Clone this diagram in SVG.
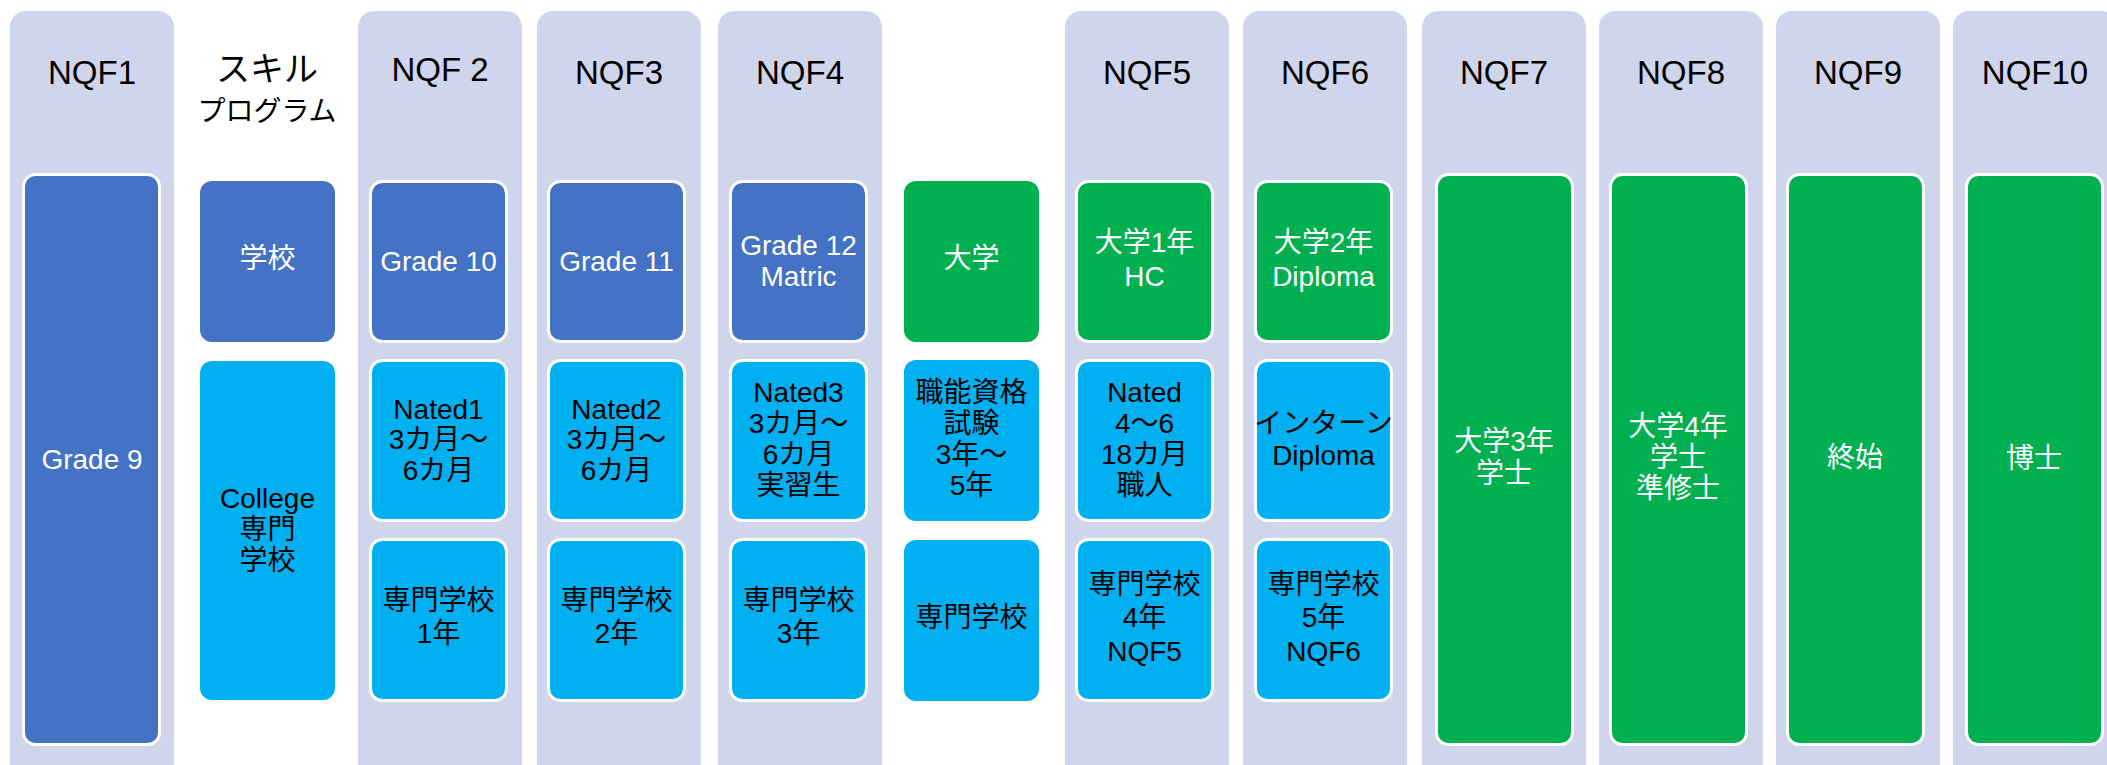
<svg xmlns="http://www.w3.org/2000/svg" width="2107" height="765" viewBox="0 0 2107 765">
<style>
.col{fill:#CFD5EA}
.bx{stroke:#FFFFFF;stroke-width:3}
.blue{fill:#4472C4}
.cyan{fill:#00B0F0}
.green{fill:#00B050}
text{font-family:"Liberation Sans","Noto Sans CJK JP",sans-serif;text-anchor:middle}
.hd{font-size:33px;fill:#000}
.w{font-size:28px;fill:#FFFFFF}
.k{font-size:28px;fill:#000}
</style>
<rect width="2107" height="765" fill="#FFFFFF"/>
<g id="columns">
<rect class="col" x="10" y="11" width="164" height="770" rx="16"/>
<rect class="col" x="358" y="11" width="164" height="770" rx="16"/>
<rect class="col" x="537" y="11" width="164" height="770" rx="16"/>
<rect class="col" x="718" y="11" width="164" height="770" rx="16"/>
<rect class="col" x="1065" y="11" width="164" height="770" rx="16"/>
<rect class="col" x="1243" y="11" width="164" height="770" rx="16"/>
<rect class="col" x="1422" y="11" width="164" height="770" rx="16"/>
<rect class="col" x="1599" y="11" width="164" height="770" rx="16"/>
<rect class="col" x="1776" y="11" width="164" height="770" rx="16"/>
<rect class="col" x="1953" y="11" width="164" height="770" rx="16"/>
</g>
<g id="headers">
<text class="hd" x="92" y="84">NQF1</text>
<text class="hd" x="267" y="81" style="font-size:34px">スキル</text>
<text class="hd" x="267" y="121" style="font-size:28px">プログラム</text>
<text class="hd" x="440" y="81">NQF 2</text>
<text class="hd" x="619" y="84">NQF3</text>
<text class="hd" x="800" y="84">NQF4</text>
<text class="hd" x="1147" y="84">NQF5</text>
<text class="hd" x="1325" y="84">NQF6</text>
<text class="hd" x="1504" y="84">NQF7</text>
<text class="hd" x="1681" y="84">NQF8</text>
<text class="hd" x="1858" y="84">NQF9</text>
<text class="hd" x="2035" y="84">NQF10</text>
</g>
<g id="nqf1">
<rect class="bx blue" x="23.5" y="174.5" width="136" height="570" rx="12"/>
<text class="w" x="92" y="469">Grade 9</text>
</g>
<g id="skill">
<rect class="blue" x="200" y="181" width="135" height="161" rx="12"/>
<text class="w" x="267.5" y="268">学校</text>
<rect class="cyan" x="200" y="361" width="135" height="339" rx="12"/>
<text class="k" x="267.5" y="508">College</text>
<text class="k" x="267.5" y="539">専門</text>
<text class="k" x="267.5" y="570">学校</text>
</g>
<g id="nqf2">
<rect class="bx blue" x="370.5" y="181.5" width="136" height="160" rx="12"/>
<text class="w" x="438.5" y="271">Grade 10</text>
<rect class="bx cyan" x="370.5" y="360.5" width="136" height="160" rx="12"/>
<text class="k" x="438.5" y="419">Nated1</text>
<text class="k" x="438.5" y="449">3カ月～</text>
<text class="k" x="438.5" y="480">6カ月</text>
<rect class="bx cyan" x="370.5" y="539.5" width="136" height="161" rx="12"/>
<text class="k" x="438.5" y="610">専門学校</text>
<text class="k" x="438.5" y="643">1年</text>
</g>
<g id="nqf3">
<rect class="bx blue" x="548.5" y="181.5" width="136" height="160" rx="12"/>
<text class="w" x="616.5" y="271">Grade 11</text>
<rect class="bx cyan" x="548.5" y="360.5" width="136" height="160" rx="12"/>
<text class="k" x="616.5" y="419">Nated2</text>
<text class="k" x="616.5" y="449">3カ月～</text>
<text class="k" x="616.5" y="480">6カ月</text>
<rect class="bx cyan" x="548.5" y="539.5" width="136" height="161" rx="12"/>
<text class="k" x="616.5" y="610">専門学校</text>
<text class="k" x="616.5" y="643">2年</text>
</g>
<g id="nqf4">
<rect class="bx blue" x="730.5" y="181.5" width="136" height="160" rx="12"/>
<text class="w" x="798.5" y="255">Grade 12</text>
<text class="w" x="798.5" y="286">Matric</text>
<rect class="bx cyan" x="730.5" y="360.5" width="136" height="160" rx="12"/>
<text class="k" x="798.5" y="402">Nated3</text>
<text class="k" x="798.5" y="433">3カ月～</text>
<text class="k" x="798.5" y="464">6カ月</text>
<text class="k" x="798.5" y="495">実習生</text>
<rect class="bx cyan" x="730.5" y="539.5" width="136" height="161" rx="12"/>
<text class="k" x="798.5" y="610">専門学校</text>
<text class="k" x="798.5" y="643">3年</text>
</g>
<g id="university">
<rect class="green" x="904" y="181" width="135" height="161" rx="12"/>
<text class="w" x="971.5" y="268">大学</text>
<rect class="cyan" x="904" y="360" width="135" height="161" rx="12"/>
<text class="k" x="971.5" y="402">職能資格</text>
<text class="k" x="971.5" y="433">試験</text>
<text class="k" x="971.5" y="464">3年～</text>
<text class="k" x="971.5" y="495">5年</text>
<rect class="cyan" x="904" y="540" width="135" height="161" rx="12"/>
<text class="k" x="971.5" y="627">専門学校</text>
</g>
<g id="nqf5">
<rect class="bx green" x="1076.5" y="181.5" width="136" height="160" rx="12"/>
<text class="w" x="1144.5" y="252">大学1年</text>
<text class="w" x="1144.5" y="286">HC</text>
<rect class="bx cyan" x="1076.5" y="360.5" width="136" height="160" rx="12"/>
<text class="k" x="1144.5" y="402">Nated</text>
<text class="k" x="1144.5" y="433">4～6</text>
<text class="k" x="1144.5" y="464">18カ月</text>
<text class="k" x="1144.5" y="495">職人</text>
<rect class="bx cyan" x="1076.5" y="539.5" width="136" height="161" rx="12"/>
<text class="k" x="1144.5" y="594">専門学校</text>
<text class="k" x="1144.5" y="627">4年</text>
<text class="k" x="1144.5" y="661">NQF5</text>
</g>
<g id="nqf6">
<rect class="bx green" x="1255.5" y="181.5" width="136" height="160" rx="12"/>
<text class="w" x="1323.5" y="252">大学2年</text>
<text class="w" x="1323.5" y="286">Diploma</text>
<rect class="bx cyan" x="1255.5" y="360.5" width="136" height="160" rx="12"/>
<text class="k" x="1323.5" y="433">インターン</text>
<text class="k" x="1323.5" y="465">Diploma</text>
<rect class="bx cyan" x="1255.5" y="539.5" width="136" height="161" rx="12"/>
<text class="k" x="1323.5" y="594">専門学校</text>
<text class="k" x="1323.5" y="627">5年</text>
<text class="k" x="1323.5" y="661">NQF6</text>
</g>
<g id="nqf7">
<rect class="bx green" x="1436.5" y="174.5" width="136" height="570" rx="12"/>
<text class="w" x="1504" y="451">大学3年</text>
<text class="w" x="1504" y="483">学士</text>
</g>
<g id="nqf8">
<rect class="bx green" x="1610.5" y="174.5" width="136" height="570" rx="12"/>
<text class="w" x="1678" y="436">大学4年</text>
<text class="w" x="1678" y="467">学士</text>
<text class="w" x="1678" y="498">準修士</text>
</g>
<g id="nqf9">
<rect class="bx green" x="1787.5" y="174.5" width="136" height="570" rx="12"/>
<text class="w" x="1855" y="467">終始</text>
</g>
<g id="nqf10">
<rect class="bx green" x="1966.5" y="174.5" width="136" height="570" rx="12"/>
<text class="w" x="2034" y="468">博士</text>
</g>
<g id="connectors"></g>
</svg>
